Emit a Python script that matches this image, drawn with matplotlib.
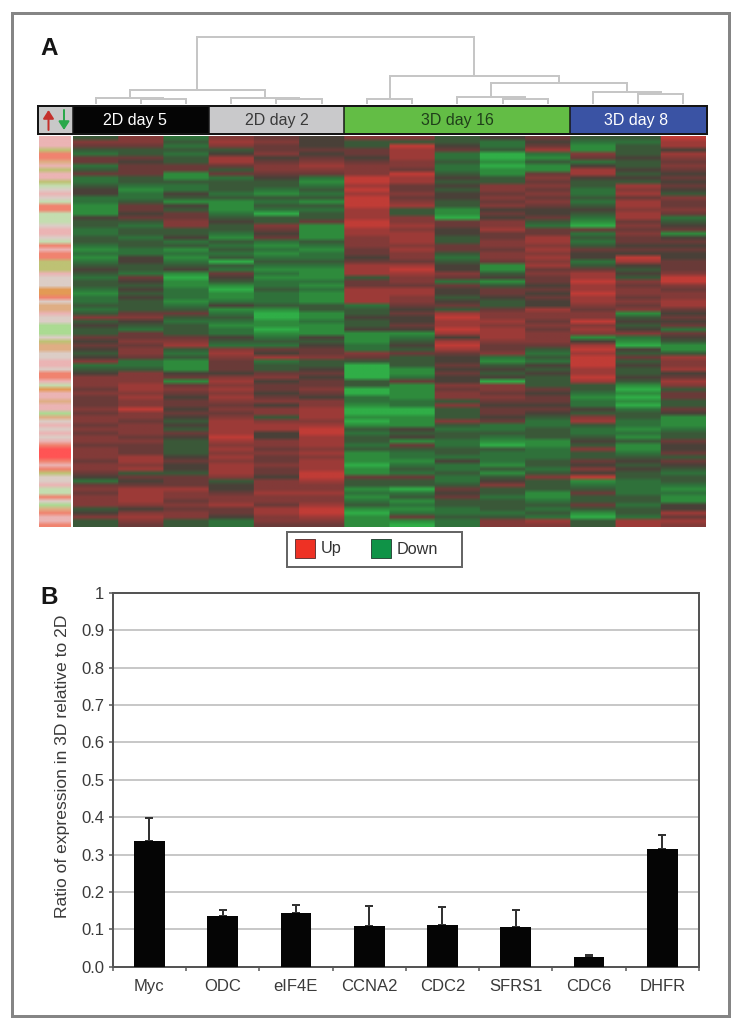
import numpy as np
import matplotlib
matplotlib.use("Agg")
import matplotlib.pyplot as plt
from matplotlib.colors import LinearSegmentedColormap, to_rgb
from matplotlib.patches import Rectangle

plt.rcParams['font.family'] = ['Liberation Sans', 'DejaVu Sans']

# ---------- data ----------
SAMPLE_GROUPS = ["2D day 5", "2D day 2", "3D day 16", "3D day 8"]
GROUP_SIZES = [3, 3, 5, 3]

# expression level per gene for each sample: 0 = strong down ... 4 = neutral ... 8 = strong up
C01 = "3653255235 2234422111 4332233212 123 4323321223 2363433545 4346234666 565 5565665656 6566656654 2565666346 33"
C02 = "6653354555 3321223554 5323323322 443 3254343433 3564325565 6652236667 767 6686656665 6555776735 4577776467 65"
C03 = "2323233551 1322431435 5663342312 123 4101122212 3532333567 3231114515 654 5545434354 3333454435 5576656566 33"
C04 = "6763477535 2333231112 3433213232 303 2543101124 1232122432 6765554676 767 6565677778 7676767776 3445667554 22"
C05 = "5655645665 4332132320 3365452121 232 1212232223 1001101232 5472335645 545 6466367744 6656556554 6667665776 65"
C06 = "4445456765 2123231323 3511113212 232 1112121113 3112111434 5563345455 654 6677767887 7767677788 7667667887 65"
C07 = "6335545666 8878788877 7887766655 457 7735577772 3343341112 2653000033 002 2100101323 3231110115 3312123101 11"
C08 = "6387776658 7755656733 6676777676 657 8766577665 4544541234 3533311251 111 2200111434 1532212325 3302312125 10"
C09 = "3345223223 4343443311 0554433553 234 4652544345 3787787478 7544545446 566 3633363233 2233242232 2354533223 22"
C10 = "4223001011 3366565645 4667556656 651 1341355433 5667677765 5621343406 656 5455452232 1032221313 4633233323 66"
C11 = "5457213115 6565656544 5325577676 767 5655454544 7665656665 3232434333 545 5454322333 1122233236 3331123232 76"
C12 = "3211652477 4332232343 2105232354 423 5778778776 5668676147 8788877873 321 2243673223 4363354648 1235335310 33"
C13 = "3233343343 4376757767 7565655454 874 3436566565 6134346210 4353433431 010 1023322121 3112343433 2222332332 77"
C14 = "8774765654 5454365565 2345145454 455 5688656677 5454525431 1376674576 355 3354111233 5445354323 3212114475 76"
COLUMNS = [C01, C02, C03, C04, C05, C06, C07, C08, C09, C10, C11, C12, C13, C14]

# annotation strip beside the heat map
SIDE = ("pppyrropyp pygwpwgrrg ggwppwgrpr ryy ypwwwOOrwo opwwGGGwyo owwppwrrpg Opp "
        "oppGowpwpw prRRRrpryw wpggrwGorp pr")
SIDE_COLORS = {"p": "#EBB4B4", "w": "#DCCDC6", "g": "#C4DDB0", "G": "#ABDB92", "y": "#BEC274",
               "o": "#DFAE84", "O": "#E39A55", "r": "#F0836F", "R": "#FF5454"}

# dendrogram merges: (left child, right child, height); children 0-13 are samples
MERGES = [(1, 2, 4), (0, 14, 5), (4, 5, 4), (3, 16, 5), (15, 17, 13),
          (6, 7, 4), (9, 10, 4), (8, 20, 6), (12, 13, 9), (11, 22, 11),
          (21, 23, 20), (19, 24, 27), (18, 25, 66)]

GENES = ["Myc", "ODC", "eIF4E", "CCNA2", "CDC2", "SFRS1", "CDC6", "DHFR"]
RATIO = [0.337, 0.137, 0.145, 0.110, 0.112, 0.107, 0.025, 0.316]
ERR_UP = [0.060, 0.014, 0.021, 0.053, 0.047, 0.045, 0.007, 0.037]
Y_TICKS = [0, .1, .2, .3, .4, .5, .6, .7, .8, .9, 1]
Y_LABELS = ["0.0", "0.1", "0.2", "0.3", "0.4", "0.5", "0.6", "0.7", "0.8", "0.9", "1"]

# ---------- layout helpers ----------
W, H = 740, 1028
fig = plt.figure(figsize=(W / 100, H / 100), dpi=100, facecolor="white")


def px_axes(x0, y0, x1, y1, **kw):
    return fig.add_axes([x0 / W, 1 - y1 / H, (x1 - x0) / W, (y1 - y0) / H], **kw)


def lw(px):
    return px * 72 / 100


# page overlay in pixel coordinates, above everything
page = px_axes(0, 0, W, H)
page.set_xlim(0, W)
page.set_ylim(H, 0)
page.axis("off")
page.set_zorder(10)
page.add_patch(Rectangle((12, 13), 717, 1003, fill=False, ec="#858585", lw=lw(3)))
page.text(40, 55, "A", fontsize=17.5, fontweight="bold", color="#151515", ha="left", va="baseline")
page.text(40, 604, "B", fontsize=17.5, fontweight="bold", color="#151515", ha="left", va="baseline")

# ---------- heat map ----------
matrix = np.array([[int(c) for c in col.replace(" ", "")] for col in COLUMNS]).T
HEAT = LinearSegmentedColormap.from_list("heat", ["#30AE47", "#2E8C3D", "#2F723B", "#3A5939", "#494138",
                                                  "#693B38", "#823A38", "#9C3A38", "#C03C36"])
hm = px_axes(73, 136, 706, 527)
# columns are repeated so that the smoothing acts along the genes only
hm.imshow(np.repeat(matrix, 40, axis=1), aspect="auto", cmap=HEAT, vmin=0, vmax=8, interpolation="bilinear")
hm.axis("off")

side_rgb = np.array([[to_rgb(SIDE_COLORS[c])] * 2 for c in SIDE.replace(" ", "")])
sd = px_axes(39, 136, 71, 527)
sd.imshow(side_rgb, aspect="auto", interpolation="bilinear")
sd.axis("off")

# ---------- group header ----------
hd = px_axes(38, 106, 707, 134)
n = sum(GROUP_SIZES)
cell = (706 - 73) / n
hd.set_xlim(-35 / cell, n + 1 / cell)
hd.set_ylim(0, 1)
hd.set_xticks([])
hd.set_yticks([])
for s in hd.spines.values():
    s.set_linewidth(lw(2))
    s.set_color("#151515")
hd.axvspan(-35 / cell, 0, color="#C8C8C8", lw=0)
GROUP_FACE = ["#050505", "#C9C9CB", "#63BD45", "#3A53A4"]
GROUP_TEXT = ["white", "#3A3A3A", "#1F3F1A", "white"]
GROUP_NUDGE = [-0.14, 0, 0, -0.04]
start = 0
for name, size, fc, tc, dx in zip(SAMPLE_GROUPS, GROUP_SIZES, GROUP_FACE, GROUP_TEXT, GROUP_NUDGE):
    hd.axvspan(start, start + size, color=fc, lw=0)
    hd.text(start + size / 2 + dx, 0.47, name, color=tc, fontsize=11.5, ha="center", va="center")
    start += size
for edge in np.cumsum([0] + GROUP_SIZES[:-1]):
    hd.axvline(edge, color="#151515", lw=lw(1.5))
page.annotate("", xy=(48.5, 110), xytext=(48.5, 130),
              arrowprops=dict(arrowstyle="-|>,head_width=0.32,head_length=0.5", color="#C4302B", lw=lw(2), shrinkA=0, shrinkB=0))
page.annotate("", xy=(64, 130), xytext=(64, 110),
              arrowprops=dict(arrowstyle="-|>,head_width=0.32,head_length=0.5", color="#2AA84A", lw=lw(2), shrinkA=0, shrinkB=0))

# ---------- dendrogram ----------
dn = px_axes(73, 30, 706, 103)
dn.set_xlim(-0.5, n - 0.5)
dn.set_ylim(0, 73)
dn.axis("off")
xs = {i: (float(i), 0.0) for i in range(n)}
for k, (a, b, h) in enumerate(MERGES):
    xa, ha = xs[a]
    xb, hb = xs[b]
    dn.plot([xa, xa, xb, xb], [ha, h, h, hb], color="#C6C6C6", lw=lw(2),
            solid_joinstyle="miter", clip_on=False)
    xs[n + k] = ((xa + xb) / 2, float(h))

# ---------- colour legend ----------
page.add_patch(Rectangle((287, 532), 175, 35, fc="white", ec="#666666", lw=lw(2)))
page.add_patch(Rectangle((295, 538.5), 20, 19.5, fc="#EE3124", ec="#6A3A3A", lw=lw(1)))
page.text(321, 549, "Up", fontsize=11.7, color="#333333", va="center", ha="left")
page.add_patch(Rectangle((371, 538.5), 20, 19.5, fc="#0F9347", ec="#2F4F3F", lw=lw(1)))
page.text(397, 549, "Down", fontsize=11.7, color="#333333", va="center", ha="left")

# ---------- bar chart ----------
ax = px_axes(112.7, 593, 699, 966.7)
x = np.arange(len(GENES))
ax.set_xlim(-0.5, len(GENES) - 0.5)
ax.set_ylim(0, 1)
ax.set_axisbelow(True)
ax.yaxis.grid(True, color="#C8C8C8", lw=lw(2))
ax.bar(x, RATIO, width=0.42, color="#050505", zorder=3,
       yerr=[np.zeros(len(ERR_UP)), ERR_UP],
       error_kw=dict(ecolor="#333333", elinewidth=lw(2), capsize=2.6, capthick=lw(2), zorder=2))
ax.set_yticks(Y_TICKS)
ax.set_yticklabels(Y_LABELS)
ax.set_xticks(np.arange(len(GENES) + 1) - 0.5)
ax.set_xticklabels([])
ax.set_xticks(x, minor=True)
ax.set_xticklabels(GENES, minor=True)
ax.tick_params(axis="x", which="major", length=3, width=lw(1.5), color="#555555")
ax.tick_params(axis="x", which="minor", length=0, pad=9, labelsize=12, labelcolor="#3A3A3A")
ax.tick_params(axis="y", length=3, width=lw(1.5), color="#555555", labelsize=12, labelcolor="#3A3A3A", pad=3)
for s in ax.spines.values():
    s.set_linewidth(lw(2))
    s.set_color("#555555")
ax.set_ylabel("Ratio of expression in 3D relative to 2D", fontsize=12.6, color="#3A3A3A")
ax.yaxis.set_label_coords((70 - 112.7) / (699 - 112.7), (966.7 - 766) / (966.7 - 593))

fig.savefig("out.png", dpi=100, facecolor="white")
